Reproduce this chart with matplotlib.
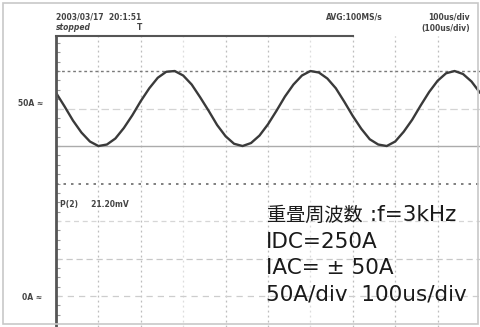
import numpy as np
import matplotlib
matplotlib.use('Agg')
import matplotlib.pyplot as plt
from matplotlib.patches import Rectangle

t_us = list(range(0, 1001, 20))
current_a = [271, 253, 234, 218, 206, 200, 202, 210, 224, 241, 260, 277, 291, 299,
             300, 294, 282, 265, 247, 228, 213, 203, 200, 204, 214, 229, 247, 266,
             282, 294, 300, 298, 290, 277, 259, 240, 223, 209, 202, 200, 206, 219,
             235, 254, 272, 287, 297, 300, 296, 286, 271]

# Grid (50A/div, 100us/div)
grid_x = [100, 200, 300, 400, 500, 600, 700, 800, 900]
grid_y = [0, 50, 100, 150, 200, 250, 300]

header_left = ["2003/03/17  20:1:51", "stopped"]
header_right = ["AVG:100MS/s", "100us/div", "(100us/div)"]
meas_text = "P(2)     21.20mV"
info_jp = "重畳周波数"
info_lines = [" :f=3kHz", "IDC=250A", "IAC= ± 50A", "50A/div  100us/div"]

W, H = 480, 327
fig = plt.figure(figsize=(W / 100, H / 100), dpi=100)
fig.patch.set_facecolor('white')

def fx(px):
    return px / W

def fy(py):
    return 1 - py / H

# light frame round the screenshot
fig.patches.append(Rectangle((fx(3), fy(324)), fx(475), (321) / H, transform=fig.transFigure,
                             fill=False, edgecolor='#c8c8c8', linewidth=1.2))

ax = fig.add_axes([fx(56), 0, fx(424), fy(36)])
ax.set_xlim(0, 1000)
ax.set_ylim(-41.3, 346.7)
ax.set_facecolor('none')
for s in ['right', 'bottom', 'top']:
    ax.spines[s].set_visible(False)
ax.spines['left'].set_linewidth(2.0)
ax.spines['left'].set_color('#555555')
ax.set_xticks([])
ax.set_yticks(np.arange(-25, 346, 12.5))
ax.tick_params(axis='y', direction='in', length=3, width=0.8, color='#999999', labelleft=False)

# vertical grid
for gx in grid_x:
    faint = gx in (300, 600)
    ax.axvline(gx, color='#dddddd' if faint else '#bdbdbd', lw=0.9, ls=(0, (1.5, 2.5)))

# horizontal grid
styles = {
    300: dict(color='#7a7a7a', lw=1.0, ls=(0, (2, 2))),
    250: dict(color='#d4d4d4', lw=0.9, ls=(0, (6, 3))),
    200: dict(color='#ababab', lw=1.0, ls='-'),
    150: dict(color='#6a6a6a', lw=1.2, ls=(0, (1.5, 3))),
    100: dict(color='#d6d6d6', lw=0.9, ls=(0, (4, 3))),
    50: dict(color='#c8c8c8', lw=0.9, ls=(0, (5, 3))),
    0: dict(color='#cdcdcd', lw=0.9, ls=(0, (5, 4))),
}
for gy in grid_y:
    ax.axhline(gy, **styles[gy])

ax.plot(t_us, current_a, color='#3a3a3a', lw=1.7, solid_capstyle='round')

# top border of the screen area
fig.add_artist(plt.Line2D([fx(56), fx(353)], [fy(36), fy(36)], transform=fig.transFigure,
                          color='#555555', lw=1.5))

# scope labels (scanned, blurry)
mono = dict(color='#444444', fontsize=5.5, fontweight='bold', family='DejaVu Sans')
fig.text(fx(56), fy(17), header_left[0], va='center', ha='left', **mono)
fig.text(fx(56), fy(28), header_left[1], va='center', ha='left', style='italic', **mono)
fig.text(fx(140), fy(28), "T", va='center', ha='center', **mono)
fig.text(fx(326), fy(17), header_right[0], va='center', ha='left', **mono)
fig.text(fx(470), fy(17), header_right[1], va='center', ha='right', **mono)
fig.text(fx(470), fy(28), header_right[2], va='center', ha='right', **mono)
fig.text(fx(60), fy(204), meas_text, va='center', ha='left', **mono)
fig.text(fx(18), fy(104), "50A ≈", va='center', ha='left', **mono)
fig.text(fx(22), fy(297), "0A ≈", va='center', ha='left', **mono)

# annotation block
baselines = [221, 248, 274.5, 301]
fig.text(fx(267), fy(baselines[0]), info_jp, va='baseline', ha='left', fontsize=13.8,
         color='#1a1a1a', family=['Noto Sans CJK JP', 'DejaVu Sans'])
for i, line in enumerate(info_lines):
    x0 = 363 if i == 0 else 266
    fig.text(fx(x0), fy(baselines[i]), line, va='baseline', ha='left', fontsize=15.5,
             color='#1a1a1a', family=['DejaVu Sans', 'Noto Sans CJK JP'])

fig.savefig('out.png', dpi=100, facecolor='white')
